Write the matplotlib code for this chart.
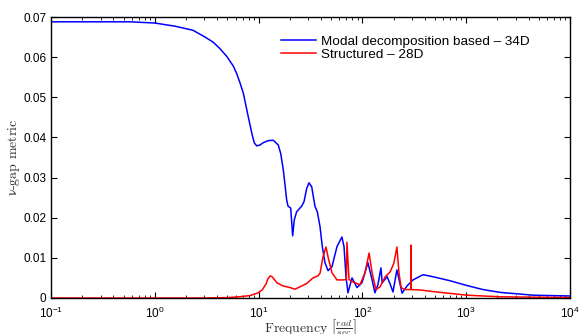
import matplotlib
matplotlib.use("Agg")
import matplotlib.pyplot as plt
from matplotlib.ticker import LogLocator, NullFormatter

plt.rcParams['font.family'] = ['Liberation Sans', 'DejaVu Sans']
plt.rcParams['mathtext.default'] = 'regular'

# Blue: Modal decomposition based - 34D
blue_freq = [0.1, 0.3, 0.58, 1.0, 1.57, 2.33, 3.05, 3.66, 4.25, 4.93, 5.70, 6.15,
             6.62, 7.13, 7.96, 8.59, 9.10, 9.60, 10.3, 11.1, 12.4, 13.86, 15.48,
             16.33, 17.30, 17.96, 18.65, 19.20, 20.38, 21.30, 22.08, 23.28, 26.02,
             27.38, 29.07, 30.59, 32.48, 33.65, 34.95, 36.77, 39.05, 41.09, 43.6,
             46.7, 50.9, 56.9, 63.5, 66.5, 69.5, 72.6, 79.4, 84.0, 88.7, 99.1, 113,
             124, 132, 141, 151, 155, 173, 185, 197, 215, 241, 269, 307, 384, 479,
             698, 1019, 1452, 2118, 4406, 10000]
blue_vals = [0.0688, 0.0688, 0.0688, 0.0685, 0.0677, 0.0667, 0.0650, 0.0637, 0.0621,
             0.0602, 0.0578, 0.0559, 0.0536, 0.0510, 0.0451, 0.0411, 0.0386, 0.0379,
             0.0381, 0.0387, 0.0392, 0.0393, 0.0381, 0.0360, 0.0319, 0.0282, 0.0244,
             0.0229, 0.0224, 0.0155, 0.0195, 0.0215, 0.0229, 0.0240, 0.0273, 0.0287,
             0.0277, 0.0253, 0.0228, 0.0215, 0.0178, 0.0128, 0.0088, 0.0068, 0.0078,
             0.0128, 0.0152, 0.0128, 0.0053, 0.0013, 0.0050, 0.0038, 0.0026, 0.0038,
             0.0088, 0.0045, 0.0013, 0.0033, 0.0075, 0.0038, 0.0053, 0.0035, 0.0015,
             0.0070, 0.0012, 0.0030, 0.0045, 0.0058, 0.0053, 0.0043, 0.0031, 0.0021,
             0.0014, 0.0007, 0.0005]

# Red: Structured - 28D
red_freq = [0.1, 3.0, 5.0, 6.5, 8.3, 9.9, 10.8, 11.8, 12.3, 12.9, 13.5, 14.2, 15.0,
            17.2, 20.1, 22.4, 25.1, 29.0, 33.4, 37.3, 39.1, 41.7, 44.6, 46.7, 50.9,
            56.9, 65.0, 70.0, 71.0, 74.3, 81.1, 94.8, 106, 116, 124, 135, 148, 166,
            185, 201, 215, 225, 236, 257, 292, 293, 295, 359, 479, 1019, 2118, 10000]
red_vals = [0.0, 0.0, 0.0001, 0.0003, 0.0006, 0.0013, 0.0020, 0.0035, 0.0048, 0.0055,
            0.0053, 0.0046, 0.0038, 0.0030, 0.0026, 0.0022, 0.0028, 0.0036, 0.0050,
            0.0055, 0.0062, 0.0102, 0.0127, 0.0102, 0.0063, 0.0045, 0.0045, 0.0046,
            0.0139, 0.0046, 0.0040, 0.0033, 0.0063, 0.0112, 0.0063, 0.0021, 0.0028,
            0.0053, 0.0065, 0.0087, 0.0127, 0.0063, 0.0026, 0.0021, 0.0021, 0.0132,
            0.0021, 0.0020, 0.0016, 0.0007, 0.0003, 0.0001]

labels = ['Modal decomposition based \u2013 34D', 'Structured \u2013 28D']
y_ticks = [0, 0.01, 0.02, 0.03, 0.04, 0.05, 0.06, 0.07]
y_tick_labels = ['0', '0.01', '0.02', '0.03', '0.04', '0.05', '0.06', '0.07']

fig = plt.figure(figsize=(5.79, 3.34), dpi=100)
ax = fig.add_axes([51/579, 1-298/334, (570-51)/579, (298-17)/334])

ax.plot(blue_freq, blue_vals, color='#0000ff', lw=1.1, label=labels[0])
ax.plot(red_freq, red_vals, color='#ff0000', lw=1.1, label=labels[1])

ax.set_xscale('log')
ax.set_xlim(0.1, 1e4)
ax.set_ylim(0, 0.07)
ax.set_yticks(y_ticks)
ax.set_yticklabels(y_tick_labels)
ax.xaxis.set_major_locator(LogLocator(base=10, numticks=10))
ax.xaxis.set_minor_locator(LogLocator(base=10, subs=range(2, 10), numticks=20))
ax.xaxis.set_minor_formatter(NullFormatter())

ax.tick_params(which='both', direction='in', top=True, right=True, labelsize=8.5,
               colors='black')
ax.tick_params(which='major', length=4, width=0.8)
ax.tick_params(which='minor', length=2, width=0.6)
ax.tick_params(axis='x', which='major', pad=5.5)
for s in ax.spines.values():
    s.set_linewidth(1.0)

ax.set_ylabel(r'$\nu$-gap metric', family='cmr10', math_fontfamily='cm',
              fontsize=10, color='#333333')
ax.yaxis.set_label_coords(-0.056, 0.5)
ax.set_xlabel(r'Frequency $\left[\frac{\mathit{rad}}{\mathit{sec}}\right]$',
              family='cmr10', math_fontfamily='cm', fontsize=10, color='#333333')
ax.xaxis.set_label_coords(0.5, -0.072)

leg = ax.legend(loc='upper left', bbox_to_anchor=(0.425, 0.968), frameon=False,
                fontsize=9.7, handlelength=2.6, handletextpad=0.4,
                labelspacing=0.05, borderpad=0.2)

fig.savefig('out.png', dpi=100)
